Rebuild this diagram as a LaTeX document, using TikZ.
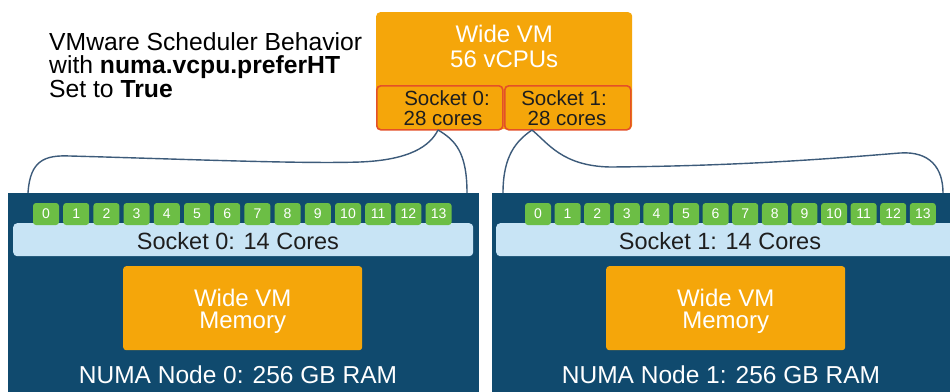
\documentclass[tikz,border=0pt]{standalone}
\usepackage{fontspec}
\setmainfont{Liberation Sans}
\definecolor{panelblue}{HTML}{104A6E}
\definecolor{barblue}{HTML}{C8E4F5}
\definecolor{coregreen}{HTML}{6CBE45}
\definecolor{vmorange}{HTML}{F5A60A}
\definecolor{sockred}{HTML}{E45028}
\definecolor{wire}{HTML}{3D5B7A}
\definecolor{darktext}{HTML}{1E1E1E}
\tikzset{
  panel/.style={fill=panelblue, draw=none, anchor=north west, minimum width=471pt, minimum height=210pt, inner sep=0pt},
  barbox/.style={fill=barblue, draw=none, rounded corners=4pt, anchor=north west, minimum width=460pt, minimum height=33pt, inner sep=0pt},
  core/.style={fill=coregreen, draw=none, rounded corners=3pt, minimum width=26pt, minimum height=22pt, inner sep=0pt, text=white, font=\fontsize{14}{14}\selectfont},
  membox/.style={fill=vmorange, draw=none, rounded corners=3pt, anchor=north west, minimum width=239pt, minimum height=84pt, inner sep=0pt},
  vmbox/.style={fill=vmorange, draw=none, rounded corners=4pt, anchor=north west, minimum width=256pt, minimum height=117pt, inner sep=0pt},
  sockbox/.style={fill=vmorange, draw=sockred, line width=1.6pt, rounded corners=4pt, anchor=north west, minimum width=126pt, minimum height=44pt, inner sep=0pt},
  bigtxt/.style={anchor=base, inner sep=0pt, font=\fontsize{24}{24}\selectfont},
  wtxt/.style={bigtxt, text=white},
  socktxt/.style={anchor=base, inner sep=0pt, text=darktext, font=\fontsize{20.5}{20}\selectfont},
  bartxt/.style={anchor=base, inner sep=0pt, text=darktext, font=\fontsize{23.5}{24}\selectfont},
  titletxt/.style={anchor=base west, inner sep=0pt, text=black, font=\fontsize{24.7}{24}\selectfont},
  wireline/.style={draw=wire, line width=1.4pt}
}
\begin{document}
\begin{tikzpicture}[x=1pt,y=-1pt]
\useasboundingbox (0,0) rectangle (950,391);
\fill[white] (0,0) rectangle (950,391);
\begin{scope}
\clip (0,0) rectangle (950,391);
% panels
\node[panel] (p0) at (8,193) {};
\node[panel] (p1) at (492,193) {};
\node[barbox] (b0) at (13,223) {};
\node[barbox] (b1) at (496,223) {};
\foreach \i in {0,...,13} {
  \node[core] (c0-\i) at ({46+30.2*\i},214) {\i};
  \node[core] (c1-\i) at ({538+29.6*\i},214) {\i};
}
\node[bartxt] (bt0) at (238,249) {Socket 0: 14 Cores};
\node[bartxt] (bt1) at (720,249) {Socket 1: 14 Cores};
\node[membox] (m0) at (123,266) {};
\node[membox] (m1) at (606,266) {};
\node[wtxt] (m0a) at (m0.center |- 0,306) {Wide VM};
\node[wtxt] (m0b) at (m0.center |- 0,328) {Memory};
\node[wtxt] (m1a) at (m1.center |- 0,306) {Wide VM};
\node[wtxt] (m1b) at (m1.center |- 0,328) {Memory};
\node[wtxt, font=\fontsize{24.5}{24}\selectfont] (n0) at (238,383) {NUMA Node 0: 256 GB RAM};
\node[wtxt, font=\fontsize{24.5}{24}\selectfont] (n1) at (721,383) {NUMA Node 1: 256 GB RAM};
\end{scope}
% top VM box
\node[vmbox] (vm) at (376,12) {};
\node[wtxt] (vma) at (vm.center |- 0,42) {Wide VM};
\node[wtxt] (vmb) at (vm.center |- 0,67) {56 vCPUs};
\node[sockbox] (s0) at (376,85) {};
\node[sockbox] (s1) at (504,85) {};
\node[socktxt] (s0a) at (447,105) {Socket 0:};
\node[socktxt] (s0b) at (443,125) {28 cores};
\node[socktxt] (s1a) at (564,105) {Socket 1:};
\node[socktxt] (s1b) at (567,125) {28 cores};
% title
\node[titletxt] (t1) at (49,50) {VMware Scheduler Behavior};
\node[titletxt] (t2) at (49,73) {with \textbf{numa.vcpu.preferHT}};
\node[titletxt] (t3) at (49,97) {Set to \textbf{True}};
% connectors
\coordinate (a0) at (438,130);
\coordinate (a1) at (532,130);
\coordinate (l0) at (28,193);
\coordinate (r0) at (467,193);
\coordinate (l1) at (503,193);
\coordinate (r1) at (943,193);
\draw[wireline] (l0) .. controls (30,160) and (45,155) .. (70,156)
  .. controls (180,159) and (300,164) .. (360,162)
  .. controls (410,160) and (430,146) .. (a0);
\draw[wireline] (a0) .. controls (455,140) and (467,152) .. (r0);
\draw[wireline] (a1) .. controls (516,141) and (503,156) .. (l1);
\draw[wireline] (a1) .. controls (548,143) and (562,166) .. (610,167)
  .. controls (750,166) and (850,157) .. (900,153)
  .. controls (930,151) and (943,168) .. (r1);
\end{tikzpicture}
\end{document}
